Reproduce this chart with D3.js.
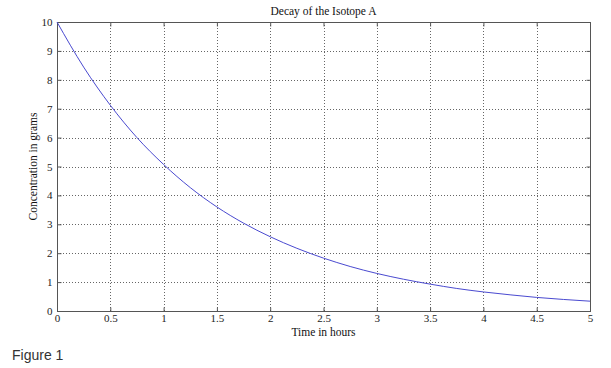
<!DOCTYPE html>
<html><head><meta charset="utf-8">
<script src="https://cdn.jsdelivr.net/npm/d3@7"></script>
<style>body{margin:0;background:#fff;}svg{display:block;}</style>
</head><body>
<script>
const title = "Decay of the Isotope A";
const xLabel = "Time in hours";
const yLabel = "Concentration in grams";
const footer = "Figure 1";
const xTicks = [0,0.5,1,1.5,2,2.5,3,3.5,4,4.5,5];
const yTicks = [0,1,2,3,4,5,6,7,8,9,10];
const times = [0,0.25,0.5,0.75,1,1.25,1.5,1.75,2,2.25,2.5,2.75,3,3.25,3.5,3.75,4,4.25,4.5,4.75,5];
const conc  = [10,8.44,7.12,6.0,5.07,4.27,3.6,3.04,2.57,2.17,1.83,1.54,1.3,1.1,0.93,0.78,0.66,0.56,0.47,0.40,0.34];

const W=611,H=368;
const L=57,R=590,T=22,B=311;
const svg=d3.select("body").append("svg").attr("width",W).attr("height",H);
const x=d3.scaleLinear().domain([0,5]).range([L,R]);
const y=d3.scaleLinear().domain([0,10]).range([B,T]);
const serif="'Liberation Serif','Times New Roman',serif";
const axisCol="#555";

// grid
const g=svg.append("g");
g.selectAll(".gx").data(xTicks.slice(1,-1)).enter().append("line")
 .attr("x1",d=>Math.round(x(d))+0.5).attr("x2",d=>Math.round(x(d))+0.5).attr("y1",T).attr("y2",B)
 .attr("stroke","#666").attr("stroke-width",1).attr("stroke-dasharray","1,2");
g.selectAll(".gy").data(yTicks.slice(1,-1)).enter().append("line")
 .attr("y1",d=>Math.round(y(d))+0.5).attr("y2",d=>Math.round(y(d))+0.5).attr("x1",L).attr("x2",R)
 .attr("stroke","#666").attr("stroke-width",1).attr("stroke-dasharray","1,2");

// axes via d3 axis
const xa=d3.axisBottom(x).tickValues(xTicks).tickSize(-4).tickPadding(3).tickFormat(d=>d);
const ya=d3.axisLeft(y).tickValues(yTicks).tickSize(-4).tickPadding(5).tickFormat(d=>d);
const gx=svg.append("g").attr("transform",`translate(0,${B+0.5})`).call(xa);
const gy=svg.append("g").attr("transform",`translate(${L+0.5},0)`).call(ya);
[gx,gy].forEach(a=>{
  a.selectAll("path").remove();
  a.selectAll("line").attr("stroke",axisCol);
  a.selectAll("text").attr("fill","#222").style("font-family",serif).style("font-size","11px");
});
// top/right ticks
svg.append("g").attr("transform",`translate(0,${T+0.5})`).call(d3.axisTop(x).tickValues(xTicks).tickSize(-4).tickFormat(""))
 .call(a=>{a.select("path").remove();a.selectAll("line").attr("stroke",axisCol);});
svg.append("g").attr("transform",`translate(${R+0.5},0)`).call(d3.axisRight(y).tickValues(yTicks).tickSize(-4).tickFormat(""))
 .call(a=>{a.select("path").remove();a.selectAll("line").attr("stroke",axisCol);});

// frame
svg.append("rect").attr("x",L+0.5).attr("y",T+0.5).attr("width",R-L).attr("height",B-T)
 .attr("fill","none").attr("stroke",axisCol).attr("stroke-width",1);

// curve
const line=d3.line().x((d,i)=>x(times[i])).y(d=>y(d)).curve(d3.curveMonotoneX);
svg.append("path").datum(conc).attr("d",line).attr("fill","none").attr("stroke","#4a4ad0").attr("stroke-width",1);

// texts
svg.append("text").attr("x",(L+R)/2).attr("y",15).attr("text-anchor","middle")
 .style("font-family",serif).style("font-size","11.5px").attr("fill","#111").text(title);
svg.append("text").attr("x",(L+R)/2).attr("y",336).attr("text-anchor","middle")
 .style("font-family",serif).style("font-size","11.5px").attr("fill","#111").text(xLabel);
svg.append("text").attr("transform",`translate(37,${(T+B)/2}) rotate(-90)`).attr("text-anchor","middle")
 .style("font-family",serif).style("font-size","11.5px").attr("fill","#111").text(yLabel);
svg.append("text").attr("x",12).attr("y",360)
 .style("font-family","'Liberation Sans',Arial,sans-serif").style("font-size","14px").attr("fill","#333").text(footer);
</script>
</body></html>
